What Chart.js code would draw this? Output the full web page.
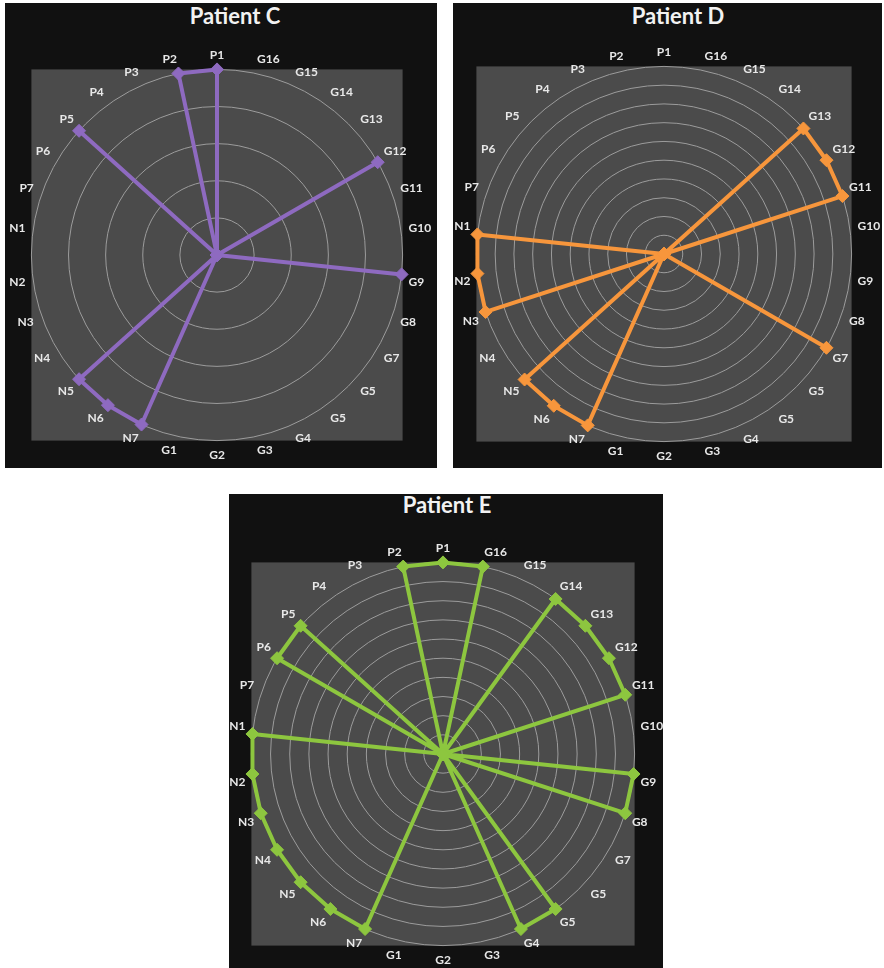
<!DOCTYPE html>
<html>
<head>
<meta charset="utf-8">
<title>Patient C, D, E radar charts</title>
<script src="https://cdn.jsdelivr.net/npm/chart.js@4.4.1/dist/chart.umd.min.js"></script>
<style>
  html, body { margin: 0; padding: 0; background: #ffffff; }
  body { width: 884px; height: 968px; position: relative; overflow: hidden; font-family: Lato, "Open Sans", sans-serif; }
  .panel { position: absolute; background: #111111; }
  .title { position: absolute; width: 200px; height: 28px; line-height: 28px; color: #f2f2f2; font-weight: bold; font-size: 22px; text-align: center; white-space: nowrap; }
  .chartBox { position: absolute; }
</style>
</head>
<body>
<div class="panel" style="left:5px;top:3px;width:432px;height:465px"></div>
<div class="panel" style="left:453px;top:3px;width:429px;height:465px"></div>
<div class="panel" style="left:229px;top:494px;width:434px;height:474px"></div>

<div class="title" style="left:135px;top:2px">Patient C</div>
<div class="title" style="left:578px;top:2px">Patient D</div>
<div class="title" style="left:347px;top:491px">Patient E</div>

<div class="chartBox" style="left:5px;top:48px;width:432px;height:414px"><canvas id="chartC"></canvas></div>
<div class="chartBox" style="left:451px;top:45px;width:433px;height:418px"><canvas id="chartD"></canvas></div>
<div class="chartBox" style="left:226px;top:541px;width:441px;height:426px"><canvas id="chartE"></canvas></div>

<script>
// axis labels, clockwise from the top (the chart repeats "G5")
const axisLabels = ["P1", "G16", "G15", "G14", "G13", "G12", "G11", "G10", "G9", "G8",
  "G7", "G5", "G5", "G4", "G3", "G2", "G1", "N7", "N6", "N5",
  "N4", "N3", "N2", "N1", "P7", "P6", "P5", "P4", "P3", "P2"];

const patientC = [5, 0, 0, 0, 0, 5, 0, 0, 5, 0,
  0, 0, 0, 0, 0, 0, 0, 5, 5, 5,
  0, 0, 0, 0, 0, 0, 5, 0, 0, 5];

const patientD = [0, 0, 0, 0, 10, 10, 10, 0, 0, 0,
  10, 0, 0, 0, 0, 0, 0, 10, 10, 10,
  0, 10, 10, 10, 0, 0, 0, 0, 0, 0];

const patientE = [10, 10, 0, 10, 10, 10, 10, 0, 10, 10,
  0, 0, 10, 10, 0, 0, 0, 10, 10, 10,
  10, 10, 10, 10, 0, 10, 10, 0, 0, 10];

// gray square behind the rings
const plotAreaBg = {
  id: "plotAreaBg",
  beforeDraw(chart) {
    const s = chart.scales.r;
    const ctx = chart.ctx;
    ctx.save();
    ctx.fillStyle = "#4b4b4b";
    ctx.fillRect(s.xCenter - s.drawingArea, s.yCenter - s.drawingArea, s.drawingArea * 2, s.drawingArea * 2);
    ctx.restore();
  }
};

function makeRadar(canvasId, name, values, maxValue, color) {
  const ctx = document.getElementById(canvasId).getContext("2d");
  return new Chart(ctx, {
    type: "radar",
    data: {
      labels: axisLabels,
      datasets: [{
        label: name,
        data: values,
        borderColor: color,
        borderWidth: 4,
        borderJoinStyle: "round",
        fill: false,
        pointStyle: "rectRot",
        pointRadius: 6.5,
        pointBackgroundColor: color,
        pointBorderColor: color,
        pointBorderWidth: 1
      }]
    },
    options: {
      responsive: true,
      maintainAspectRatio: false,
      animation: false,
      events: [],
      layout: { padding: 0 },
      plugins: {
        legend: { display: false },
        tooltip: { enabled: false }
      },
      scales: {
        r: {
          min: 0,
          max: maxValue,
          ticks: { display: false, stepSize: 1 },
          grid: { circular: true, color: "#9c9c9c", lineWidth: 1 },
          angleLines: { display: false },
          pointLabels: {
            color: "#e8e8e8",
            padding: 7,
            font: { family: "Lato", size: 12, weight: "bold" }
          }
        }
      }
    },
    plugins: [plotAreaBg]
  });
}

makeRadar("chartC", "Patient C", patientC, 5, "#8e6ac0");
makeRadar("chartD", "Patient D", patientD, 10, "#f7963c");
makeRadar("chartE", "Patient E", patientE, 10, "#8dc63f");
</script>
</body>
</html>
